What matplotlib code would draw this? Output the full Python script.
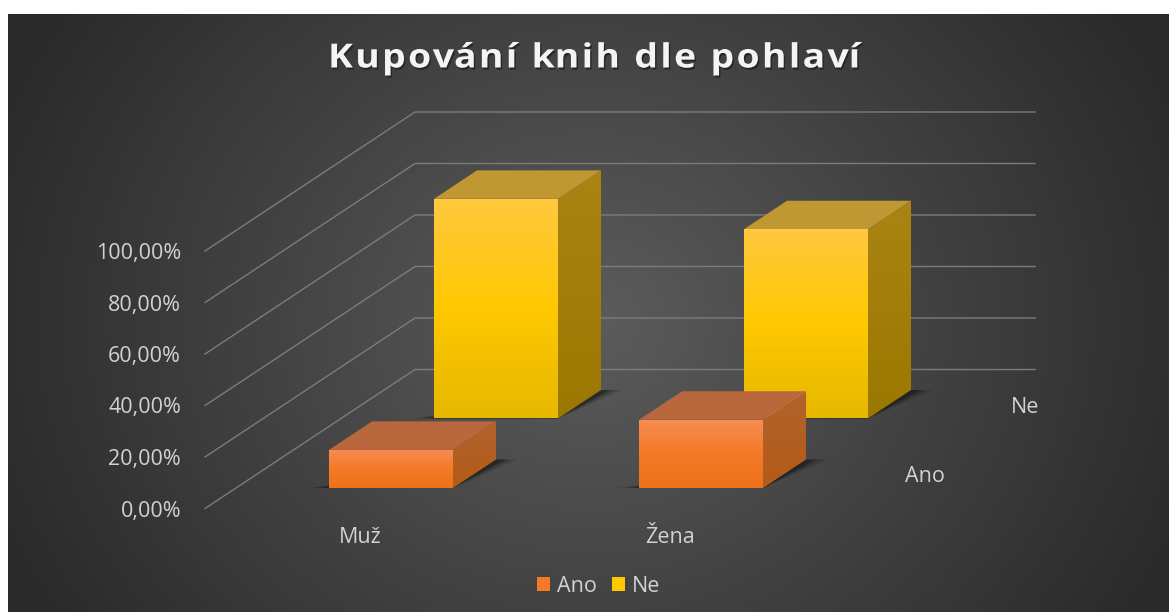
#!/usr/bin/env python3
import numpy as np
import matplotlib
matplotlib.use("Agg")
import matplotlib.pyplot as plt
from matplotlib.colors import LinearSegmentedColormap, to_rgb
from matplotlib.patches import Patch, Polygon
from matplotlib.path import Path
from matplotlib import patheffects as pe

# ---------------- DATA ----------------
CATEGORIES = ["Muž", "Žena"]
SERIES = ["Ano", "Ne"]
ANO = [14.8, 26.5]
NE = [85.3, 73.5]
TICKS = [0, 20, 40, 60, 80, 100]
TICK_LABELS = ["0,00%", "20,00%", "40,00%", "60,00%", "80,00%", "100,00%"]
TITLE = "Kupování knih dle pohlaví"
# --------------------------------------

W, H = 1169, 612
FONT = "Open Sans"
TXT = "#d2d2d2"
LABEL_SIZE = 15.5

# projection of (category, series, percent) into picture pixels
X0, Y0 = 205, 508.5
CAT_DX = 310
SER_DX, SER_DY = 105, 69.5
VAL_K = 2.575


def proj(c, s, v):
    return (X0 + c * CAT_DX + s * SER_DX, Y0 - s * SER_DY - v * VAL_K)


class Tracked(pe.AbstractPathEffect):
    """Letter spacing for one text: cut the outline into glyphs and push them apart."""

    def __init__(self, cx, k, track, offset=(0, 0), color=None):
        super().__init__(offset)
        self.cx, self.k, self.track = cx, k, track
        self.color = to_rgb(color) if color is not None else None

    def draw_path(self, renderer, gc, tpath, affine, rgbFace=None):
        path = tpath.transformed(affine)
        verts = np.array(path.vertices, dtype=float)
        codes = path.codes
        starts = list(np.where(codes == Path.MOVETO)[0]) + [len(codes)]
        # glyphs = runs of subpaths that overlap in x (counters, accents)
        groups = []
        for a, b in zip(starts[:-1], starts[1:]):
            lo, hi = verts[a:b, 0].min(), verts[a:b, 0].max()
            if groups and lo < groups[-1][1]:
                groups[-1][1] = max(groups[-1][1], hi)
                groups[-1][2].append((a, b))
            else:
                groups.append([lo, hi, [(a, b)]])
        shift = 0.0
        prev_hi = None
        for lo, hi, parts in groups:
            if prev_hi is not None:
                shift += self.track
                if lo - prev_hi > 6:  # a word gap holds one more step
                    shift += self.track
            prev_hi = hi
            for a, b in parts:
                verts[a:b, 0] += shift
        mid = (verts[:, 0].min() + verts[:, 0].max()) / 2
        verts[:, 0] = self.cx + (verts[:, 0] - mid) * self.k
        face = self.color if self.color is not None else rgbFace
        renderer.draw_path(gc, Path(verts, codes), self._offset_transform(renderer), face)


def gradient_poly(ax, pts, stops, zorder):
    pts = np.array(pts)
    cm = LinearSegmentedColormap.from_list("g", stops)
    grad = np.linspace(0, 1, 256).reshape(-1, 1)
    box = (pts[:, 0].min(), pts[:, 0].max(), pts[:, 1].max(), pts[:, 1].min())
    im = ax.imshow(grad, cmap=cm, extent=box, aspect="auto", zorder=zorder, origin="upper")
    clip = Polygon(pts, closed=True, transform=ax.transData, fc="none", ec="none")
    ax.add_patch(clip)
    im.set_clip_path(clip)


def draw_bar(ax, c, s, v, front, top, side, z):
    hw, hd = 0.2, 0.205
    cl, cr = c + 0.5 - hw, c + 0.5 + hw
    sf, sb = s + 0.5 - hd, s + 0.5 + hd

    # soft shadow on the floor
    for grow, a in [(0.07, 0.10), (0.05, 0.16), (0.03, 0.30)]:
        shadow = [proj(cl - grow, sf, 0), proj(cr, sf, 0),
                  proj(cr + grow, sb, 0), proj(cr, sb, 0)]
        ax.add_patch(Polygon(shadow, fc="black", ec="none", alpha=a, zorder=z))

    gradient_poly(ax, [proj(cr, sf, 0), proj(cr, sb, 0), proj(cr, sb, v), proj(cr, sf, v)], side, z + 0.1)
    ax.add_patch(Polygon([proj(cl, sf, v), proj(cr, sf, v), proj(cr, sb, v), proj(cl, sb, v)],
                         fc=top, ec="none", zorder=z + 0.1))
    gradient_poly(ax, [proj(cl, sf, 0), proj(cr, sf, 0), proj(cr, sf, v), proj(cl, sf, v)], front, z + 0.2)


plt.rcParams["font.family"] = [FONT, "DejaVu Sans"]
fig = plt.figure(figsize=(W / 100, H / 100), dpi=100, facecolor="white")
ax = fig.add_axes([0, 0, 1, 1])

# background: radial gradient, white strip at the left and top
yy, xx = np.mgrid[0:H, 0:W]
dist = np.sqrt(((xx - 590) / 640.0) ** 2 + ((yy - 320) / 560.0) ** 2)
centre, edge = np.array(to_rgb("#5c5c5c")), np.array(to_rgb("#2a2a2a"))
t = np.clip(dist, 0, 1)[..., None]
bg = centre * (1 - t) + edge * t
bg[:14, :] = 1.0
bg[:, :8] = 1.0
ax.imshow(bg, extent=(0, W, H, 0), aspect="auto", zorder=0)

# wall gridlines
for v in TICKS:
    a, b, d = proj(0, 0, v), proj(0, 2, v), proj(2, 2, v)
    ax.plot([a[0], b[0], d[0]], [a[1], b[1], d[1]], color="#7c7c7c", lw=1.0, zorder=1)

# bars, back row first
ORANGE = dict(front=["#f68d52", "#f47a28", "#ee7118"], top="#b9683e", side=["#b1622c", "#b35c18"])
YELLOW = dict(front=["#ffc93f", "#ffc800", "#e6b800"], top="#bf9733", side=["#ab8414", "#9a7800"])
for i in range(len(CATEGORIES)):
    draw_bar(ax, i, 1, NE[i], z=2, **YELLOW)
for i in range(len(CATEGORIES)):
    draw_bar(ax, i, 0, ANO[i], z=3, **ORANGE)

# axis labels
for v, lab in zip(TICKS, TICK_LABELS):
    x, y = proj(0, 0, v)
    ax.text(x - 24, y + 2.5, lab, color=TXT, fontsize=LABEL_SIZE, ha="right", va="center", zorder=5)
for i, lab in enumerate(CATEGORIES):
    x, y = proj(i + 0.5, 0, 0)
    ax.text(x, y + 29, lab, color=TXT, fontsize=LABEL_SIZE, ha="center", va="center", zorder=5)
for i, lab in enumerate(SERIES):
    x, y = proj(2, i + 0.5, 0)
    ax.text(x + 47 - 4 * i, y + 3, lab, color=TXT, fontsize=LABEL_SIZE, ha="center", va="center", zorder=5)

ax.text(594, 59, TITLE, color="#f4f4f4", fontsize=24, fontweight="bold",
        ha="center", va="center", zorder=5,
        path_effects=[Tracked(595, 1.12, 2.1, offset=(1, -1.5), color="#262626"), Tracked(595, 1.12, 2.1)])

handles = [Patch(fc="#f47a28", ec="none"), Patch(fc="#ffc800", ec="none")]
ax.legend(handles, SERIES, ncol=2, frameon=False, loc="center", bbox_to_anchor=(598.5, 586),
          bbox_transform=ax.transData, fontsize=LABEL_SIZE, labelcolor=TXT, handlelength=0.6, handleheight=0.6,
          handletextpad=0.33, columnspacing=0.7, borderpad=0)

ax.set_xlim(0, W)
ax.set_ylim(H, 0)
ax.axis("off")
fig.savefig("out.png", dpi=100, facecolor="white")
